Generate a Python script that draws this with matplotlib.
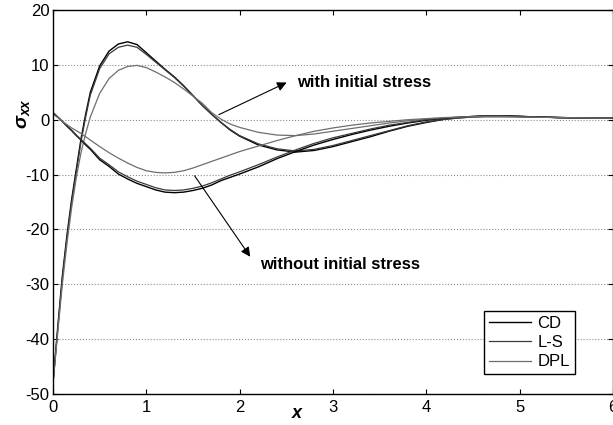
import matplotlib.pyplot as plt

plt.rcParams['font.family'] = ['Liberation Sans', 'DejaVu Sans']
plt.rcParams['axes.unicode_minus'] = False
plt.rcParams['mathtext.fontset'] = 'custom'
plt.rcParams['mathtext.rm'] = 'Liberation Sans'
plt.rcParams['mathtext.it'] = 'Liberation Sans:italic'
plt.rcParams['mathtext.bf'] = 'Liberation Sans:bold'
plt.rcParams['mathtext.bfit'] = 'Liberation Sans:bold:italic'

# sample positions along x
x = [0, 0.05, 0.1, 0.15, 0.2, 0.25, 0.3, 0.35, 0.4, 0.5, 0.6, 0.7, 0.8, 0.9,
     1.0, 1.1, 1.2, 1.3, 1.4, 1.5, 1.6, 1.7, 1.8, 1.9, 2.0, 2.2, 2.4, 2.6,
     2.8, 3.0, 3.2, 3.4, 3.6, 3.8, 4.0, 4.2, 4.4, 4.6, 4.8, 5.0, 5.4, 5.8, 6.0]

# with initial stress
cd_with = [-48, -38, -28.5, -21, -14.5, -9, -3.5, 1.0, 5.0, 9.8, 12.5, 13.8, 14.2, 13.7,
           12.2, 10.7, 9.2, 7.8, 6.2, 4.4, 2.6, 1.0, -0.5, -1.9, -3.0, -4.6, -5.5, -5.9,
           -5.6, -4.9, -4.0, -3.1, -2.1, -1.2, -0.5, 0.1, 0.4, 0.6, 0.7, 0.6, 0.4, 0.3, 0.3]
ls_with = [-48, -38.3, -29, -21.5, -15, -9.5, -4, 0.5, 4.5, 9.3, 12.0, 13.2, 13.6, 13.2,
           11.9, 10.5, 9.1, 7.7, 6.1, 4.4, 2.6, 1.0, -0.5, -1.8, -2.9, -4.4, -5.3, -5.7,
           -5.4, -4.7, -3.8, -2.9, -2.0, -1.1, -0.4, 0.1, 0.4, 0.6, 0.7, 0.6, 0.4, 0.3, 0.3]
dpl_with = [-48, -39, -30, -22.5, -16, -10.5, -6, -2.5, 0.5, 4.8, 7.5, 9.0, 9.7, 9.9,
            9.5, 8.7, 7.8, 6.8, 5.6, 4.3, 3.0, 1.3, 0.1, -0.8, -1.4, -2.3, -2.8, -2.9,
            -2.6, -2.1, -1.6, -1.1, -0.6, -0.2, 0.1, 0.3, 0.4, 0.5, 0.5, 0.5, 0.4, 0.3, 0.3]

# without initial stress
cd_without = [1.3, 0.5, -0.3, -1.2, -2.0, -2.9, -3.7, -4.6, -5.4, -7.3, -8.5, -9.9, -10.8, -11.6,
              -12.2, -12.8, -13.2, -13.3, -13.2, -12.9, -12.5, -11.9, -11.1, -10.5, -9.9, -8.6, -7.1, -5.8,
              -4.6, -3.6, -2.7, -1.9, -1.2, -0.6, -0.1, 0.3, 0.5, 0.7, 0.7, 0.6, 0.4, 0.3, 0.3]
ls_without = [1.3, 0.5, -0.3, -1.1, -1.9, -2.8, -3.6, -4.4, -5.2, -7.0, -8.2, -9.5, -10.4, -11.2,
              -11.8, -12.4, -12.8, -12.9, -12.8, -12.5, -12.1, -11.5, -10.8, -10.1, -9.5, -8.2, -6.8, -5.5,
              -4.3, -3.3, -2.5, -1.7, -1.0, -0.5, 0.0, 0.3, 0.5, 0.7, 0.7, 0.6, 0.4, 0.3, 0.3]
dpl_without = [1.0, 0.4, -0.3, -0.9, -1.5, -2.0, -2.5, -3.1, -3.7, -4.9, -6.0, -7.0, -7.9, -8.7,
               -9.3, -9.6, -9.7, -9.6, -9.3, -8.8, -8.2, -7.6, -7.0, -6.4, -5.8, -4.8, -3.8, -2.9,
               -2.1, -1.5, -1.0, -0.6, -0.3, 0.0, 0.2, 0.4, 0.5, 0.6, 0.6, 0.5, 0.4, 0.3, 0.3]

fig = plt.figure(figsize=(6.13, 4.25), dpi=100)
ax = fig.add_axes([53/613, 31/425, 560/613, 384/425])

ax.plot(x, cd_with, color='black', lw=1.0, label='CD')
ax.plot(x, ls_with, color='#3a3a3a', lw=0.9, label='L-S')
ax.plot(x, dpl_with, color='#6e6e6e', lw=0.9, label='DPL')
ax.plot(x, cd_without, color='black', lw=1.0)
ax.plot(x, ls_without, color='#3a3a3a', lw=0.9)
ax.plot(x, dpl_without, color='#6e6e6e', lw=0.9)

ax.set_xlim(0, 6)
ax.set_ylim(-50, 20)
ax.set_xticks(range(0, 7))
ax.set_yticks(range(-50, 21, 10))
ax.yaxis.grid(True, color='0.55', ls=':', lw=0.8)
ax.tick_params(direction='in', length=3.5, width=0.8, labelsize=12,
               top=True, right=True)
ax.tick_params(axis='x', pad=4)
ax.tick_params(axis='y', pad=2.5)
for s in ax.spines.values():
    s.set_linewidth(1.0)

ax.set_xlabel(r'$\mathbfit{x}$', fontsize=13)
ax.xaxis.set_label_coords(0.4375, -0.028)
ax.set_ylabel(r'$\mathbfit{\sigma}_{\mathbfit{xx}}$', fontsize=14)
ax.yaxis.set_label_coords(-0.038, 0.73)

ax.annotate('', xy=(2.53, 7.0), xytext=(1.75, 0.7),
            arrowprops=dict(arrowstyle='-|>', color='black', lw=0.8, mutation_scale=14))
ax.text(2.615, 6.7, 'with initial stress', fontsize=12, fontweight='bold', va='center')
ax.annotate('', xy=(2.13, -25.4), xytext=(1.50, -9.8),
            arrowprops=dict(arrowstyle='-|>', color='black', lw=0.8, mutation_scale=14))
ax.text(2.22, -26.4, 'without initial stress', fontsize=12, fontweight='bold', va='center')

leg = ax.legend(loc='upper left', bbox_to_anchor=(0.770, 0.216), borderaxespad=0,
                fancybox=False, framealpha=1, edgecolor='black', fontsize=12,
                handlelength=2.5, handletextpad=0.4, labelspacing=0.25, borderpad=0.3)
leg.get_frame().set_linewidth(1.0)

plt.savefig('out.png', dpi=100)
